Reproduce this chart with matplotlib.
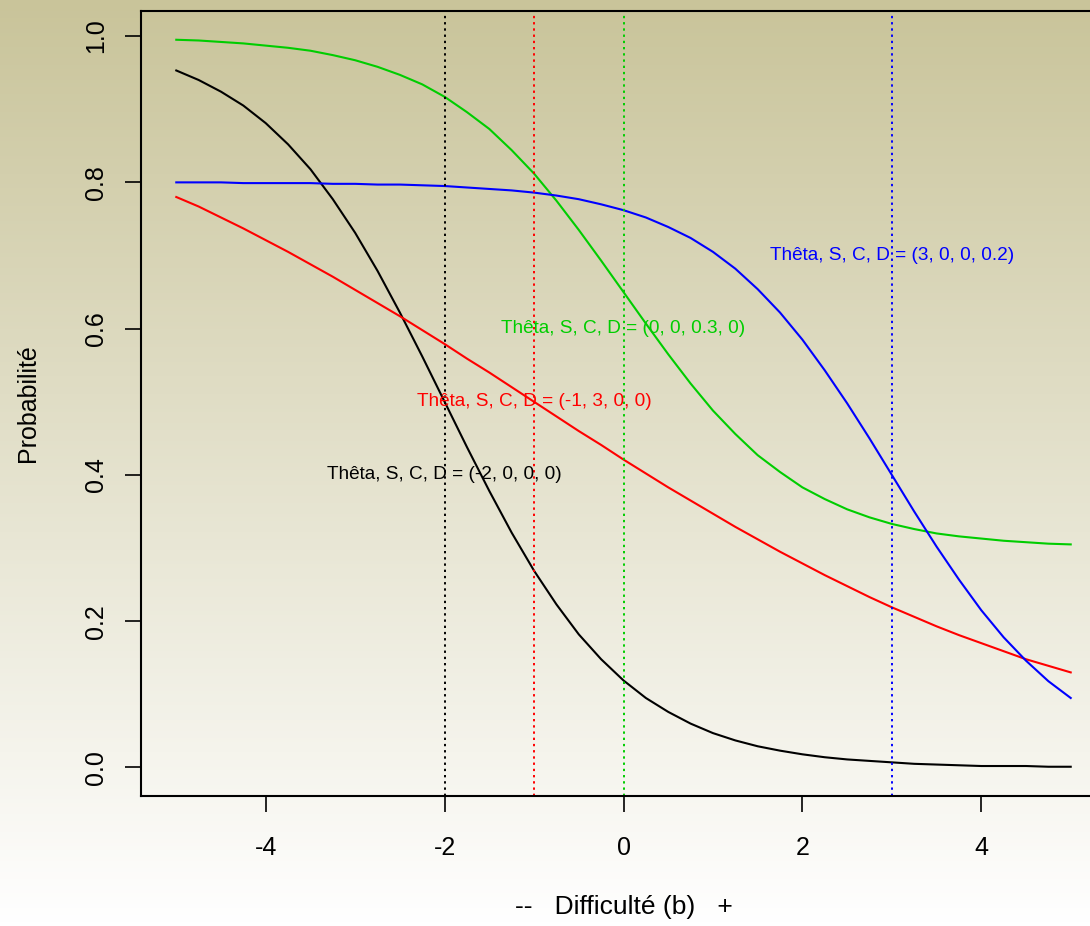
import numpy as np
import matplotlib
matplotlib.use("Agg")
import matplotlib.pyplot as plt

plt.rcParams['font.family'] = ['Liberation Sans', 'DejaVu Sans']

# difficulte b (axe x), pas de 0.25
b = [-5, -4.75, -4.5, -4.25, -4, -3.75, -3.5, -3.25, -3, -2.75, -2.5, -2.25, -2,
     -1.75, -1.5, -1.25, -1, -0.75, -0.5, -0.25, 0, 0.25, 0.5, 0.75, 1, 1.25, 1.5,
     1.75, 2, 2.25, 2.5, 2.75, 3, 3.25, 3.5, 3.75, 4, 4.25, 4.5, 4.75, 5]

# probabilites
p_noir = [0.953, 0.940, 0.924, 0.905, 0.881, 0.852, 0.818, 0.777, 0.731, 0.679, 0.622,
          0.562, 0.500, 0.438, 0.378, 0.321, 0.269, 0.223, 0.182, 0.148, 0.119, 0.095,
          0.076, 0.060, 0.047, 0.037, 0.029, 0.023, 0.018, 0.014, 0.011, 0.009, 0.007,
          0.005, 0.004, 0.003, 0.002, 0.002, 0.002, 0.001, 0.001]
p_rouge = [0.780, 0.767, 0.752, 0.737, 0.721, 0.705, 0.688, 0.671, 0.653, 0.635, 0.617,
           0.598, 0.579, 0.559, 0.540, 0.520, 0.500, 0.480, 0.460, 0.441, 0.421, 0.402,
           0.383, 0.365, 0.347, 0.329, 0.312, 0.295, 0.279, 0.263, 0.248, 0.233, 0.219,
           0.206, 0.193, 0.181, 0.170, 0.159, 0.148, 0.139, 0.130]
p_vert = [0.995, 0.994, 0.992, 0.990, 0.987, 0.984, 0.980, 0.974, 0.967, 0.958, 0.947,
          0.934, 0.917, 0.896, 0.873, 0.844, 0.812, 0.775, 0.735, 0.693, 0.650, 0.607,
          0.565, 0.525, 0.488, 0.456, 0.427, 0.404, 0.383, 0.367, 0.353, 0.342, 0.333,
          0.326, 0.320, 0.316, 0.313, 0.310, 0.308, 0.306, 0.305]
p_bleu = [0.800, 0.800, 0.800, 0.799, 0.799, 0.799, 0.799, 0.798, 0.798, 0.797, 0.797,
          0.796, 0.795, 0.793, 0.791, 0.789, 0.786, 0.782, 0.777, 0.770, 0.762, 0.752,
          0.739, 0.724, 0.705, 0.682, 0.654, 0.622, 0.585, 0.543, 0.498, 0.450, 0.400,
          0.350, 0.302, 0.257, 0.215, 0.178, 0.146, 0.118, 0.095]

# parametres (theta, S, C, D) et etiquettes
theta = [-2, -1, 0, 3]
etiquettes = ["Thêta, S, C, D = (-2, 0, 0, 0)",
              "Thêta, S, C, D = (-1, 3, 0, 0)",
              "Thêta, S, C, D = (0, 0, 0.3, 0)",
              "Thêta, S, C, D = (3, 0, 0, 0.2)"]
y_etiq = [0.4, 0.5, 0.6, 0.7]
couleurs = ["black", "#FF0000", "#00CD00", "#0000FF"]

W, H = 1090, 926
fig = plt.figure(figsize=(W / 100, H / 100), dpi=100)

# fond degrade sur toute la figure
fond = fig.add_axes([0, 0, 1, 1], zorder=0)
haut = np.array([201, 196, 154]) / 255
bas = np.array([255, 255, 255]) / 255
t = np.linspace(0, 1, 256)[:, None]
grad = (haut[None, :] * (1 - t) + bas[None, :] * t)[:, None, :]
fond.imshow(grad, aspect="auto", extent=[0, 1, 0, 1])
fond.axis("off")

ax = fig.add_axes([140.5 / W, (H - 796) / H, 966 / W, (796 - 10.5) / H], zorder=1)
ax.patch.set_alpha(0)

series = [p_noir, p_rouge, p_vert, p_bleu]
for p, c in zip(series, couleurs):
    ax.plot(b, p, color=c, lw=1.5)

for th, c in zip(theta, couleurs):
    ax.axvline(th, color=c, lw=1.4, ls=(0, (1.2, 2.0)))

for th, y, txt, c in zip(theta, y_etiq, etiquettes, couleurs):
    ax.text(th, y, txt, color=c, fontsize=13.7, ha="center", va="center")

ax.set_xlim(-5.4, 5.4)
ax.set_ylim(-0.039, 1.035)
ax.set_xticks([-4, -2, 0, 2, 4])
ax.set_xticklabels(["-4", "-2", "0", "2", "4"])
ax.set_yticks([0.0, 0.2, 0.4, 0.6, 0.8, 1.0])
ax.set_yticklabels(["0.0", "0.2", "0.4", "0.6", "0.8", "1.0"], rotation=90, va="center")
ax.tick_params(direction="out", length=11.5, width=1.2, labelsize=18)
ax.tick_params(axis="x", pad=17)
ax.tick_params(axis="y", pad=12)
for s in ax.spines.values():
    s.set_linewidth(1.5)

fig.text(623.7 / W, 1 - 907 / H, "--   Difficulté (b)   +", fontsize=19,
         ha="center", va="center")
fig.text(28 / W, 1 - 403 / H, "Probabilité", fontsize=18, rotation=90,
         ha="center", va="center")

fig.savefig("out.png", dpi=100)
